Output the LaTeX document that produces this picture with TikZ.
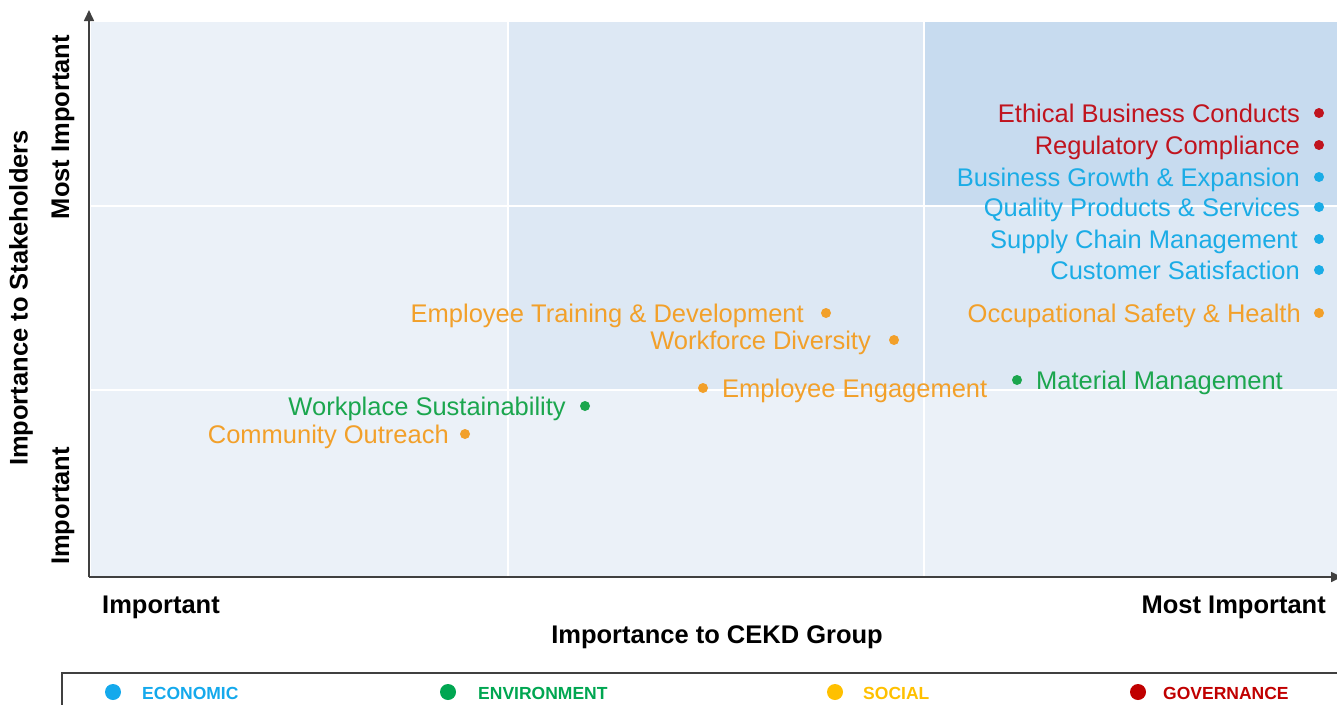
\documentclass[tikz,border=0pt]{standalone}
\usepackage{fontspec}
\setmainfont{Liberation Sans}
\usetikzlibrary{arrows.meta}
\definecolor{bgl}{HTML}{EBF1F8}
\definecolor{bgm}{HTML}{DDE8F4}
\definecolor{bgd}{HTML}{C7DBEF}
\definecolor{gov}{HTML}{C0141E}
\definecolor{eco}{HTML}{1BACE6}
\definecolor{soc}{HTML}{F2A02A}
\definecolor{env}{HTML}{1BA64E}
\definecolor{legeco}{HTML}{14A9EC}
\definecolor{legenv}{HTML}{00A651}
\definecolor{legsoc}{HTML}{FFC000}
\definecolor{leggov}{HTML}{C00000}
\definecolor{axisc}{HTML}{404040}
\begin{document}
\begin{tikzpicture}[x=1pt,y=-1pt,
  dot/.style={circle,fill=#1,inner sep=0pt,minimum size=10pt},
  ldot/.style={circle,fill=#1,inner sep=0pt,minimum size=16pt},
  lbl/.style={inner sep=0pt,text=#1,font=\fontsize{25.5}{30}\selectfont},
  axl/.style={inner sep=0pt,font=\fontsize{25.5}{30}\selectfont\bfseries},
  legt/.style={inner sep=0pt,text=#1,font=\fontsize{17.5}{21}\selectfont\bfseries,anchor=base west},
  grid/.style={draw=white,line width=2pt},
  axarrow/.style={axisc,line width=1.6pt,-{Triangle[length=11pt,width=10pt]}}]
\useasboundingbox (0,0) rectangle (1337,704);
\clip (0,0) rectangle (1337,704);
% backgrounds
\fill[bgl] (91,22) rectangle (1337,576);
\fill[bgm] (508,22) rectangle (1337,390);
\fill[bgd] (924,22) rectangle (1337,206);
\draw[grid] (508,22) -- (508,576);
\draw[grid] (924,22) -- (924,576);
\draw[grid] (91,206) -- (1337,206);
\draw[grid] (91,390) -- (1337,390);
% axes
\coordinate (o) at (89,577);
\coordinate (ytop) at (89,10);
\coordinate (xend) at (1342,577);
\draw[axarrow] (o) -- (ytop);
\draw[axarrow] (o) -- (xend);
% axis labels
\node[axl,rotate=90] (ys) at (21,298) {Importance to Stakeholders};
\node[axl,rotate=90] (ymi) at (63,127) {Most Important};
\node[axl,rotate=90] (yi) at (63,506) {Important};
\node[axl,anchor=base west] (xi) at (102,613) {Important};
\node[axl,anchor=base east] (xmi) at (1326,613) {Most Important};
\node[axl,anchor=base] (xs) at (717,643) {Importance to CEKD Group};
% data points
\node[dot=gov] (p1) at (1319,113) {};
\node[lbl=gov,anchor=base east] (l1) at (1300,122) {Ethical Business Conducts};
\node[dot=gov] (p2) at (1319,145) {};
\node[lbl=gov,anchor=base east] (l2) at (1300,154) {Regulatory Compliance};
\node[dot=eco] (p3) at (1319,177) {};
\node[lbl=eco,anchor=base east] (l3) at (1300,186) {Business Growth \& Expansion};
\node[dot=eco] (p4) at (1319,207) {};
\node[lbl=eco,anchor=base east] (l4) at (1300,216) {Quality Products \& Services};
\node[dot=eco] (p5) at (1319,239) {};
\node[lbl=eco,anchor=base east] (l5) at (1298,248) {Supply Chain Management};
\node[dot=eco] (p6) at (1319,270) {};
\node[lbl=eco,anchor=base east] (l6) at (1300,279) {Customer Satisfaction};
\node[dot=soc] (p7) at (1319,313) {};
\node[lbl=soc,anchor=base east] (l7) at (1301,322) {Occupational Safety \& Health};
\node[dot=env] (p8) at (1017,380) {};
\node[lbl=env,anchor=base west] (l8) at (1036,389) {Material Management};
\node[dot=soc] (p9) at (826,313) {};
\node[lbl=soc,anchor=base east] (l9) at (804,322) {Employee Training \& Development};
\node[dot=soc] (p10) at (894,340) {};
\node[lbl=soc,anchor=base east] (l10) at (871,349) {Workforce Diversity};
\node[dot=soc] (p11) at (703,388) {};
\node[lbl=soc,anchor=base west] (l11) at (722,397) {Employee Engagement};
\node[dot=env] (p12) at (585,406) {};
\node[lbl=env,anchor=base east] (l12) at (566,415) {Workplace Sustainability};
\node[dot=soc] (p13) at (465,434) {};
\node[lbl=soc,anchor=base east] (l13) at (449,443) {Community Outreach};
% legend
\draw[axisc,line width=1.6pt] (1345,673) -- (62,673) -- (62,720);
\node[ldot=legeco] (k1) at (113,692) {};
\node[legt=legeco] (kt1) at (142,699) {ECONOMIC};
\node[ldot=legenv] (k2) at (448,692) {};
\node[legt=legenv] (kt2) at (478,699) {ENVIRONMENT};
\node[ldot=legsoc] (k3) at (835,692) {};
\node[legt=legsoc] (kt3) at (863,699) {SOCIAL};
\node[ldot=leggov] (k4) at (1138,692) {};
\node[legt=leggov] (kt4) at (1163,699) {GOVERNANCE};
\end{tikzpicture}
\end{document}
